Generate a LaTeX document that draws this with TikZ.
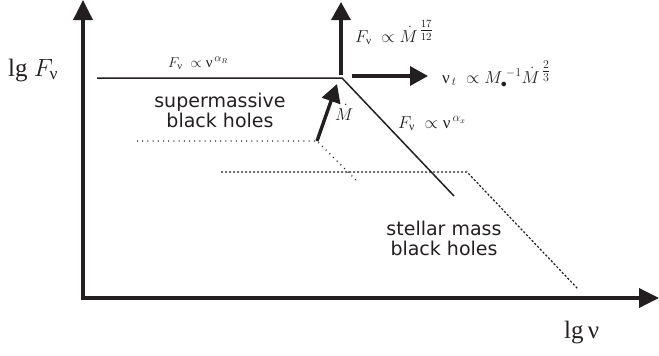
\documentclass[tikz,border=0pt]{standalone}
\usepackage{amsmath}
\usepackage{fontspec}
\setmainfont{Liberation Serif}
\newfontfamily\labelfont{DejaVu Sans}
\usetikzlibrary{arrows.meta}
\definecolor{ink}{RGB}{35,31,32}
\newcommand{\gnu}{\text{ν}}
\newcommand{\bigexp}[2]{\genfrac{}{}{}{1}{#1}{#2}}
\tikzset{
  axis/.style={line width=3.6pt, draw=ink, {Triangle[length=20pt,width=19pt]}-{Triangle[length=20pt,width=19pt]}},
  bigarrow/.style={line width=3.4pt, draw=ink, -{Triangle[length=18pt,width=19pt]}},
  curve/.style={line width=1.5pt, draw=ink},
  dotline/.style={line width=1.2pt, draw=ink, dash pattern=on 1pt off 4.2pt},
  dashline/.style={line width=1.2pt, draw=ink, dash pattern=on 2.2pt off 1.8pt},
  lab/.style={inner sep=0pt, text=ink, font=\labelfont\fontsize{19}{23}\selectfont, align=center},
  formula/.style={inner sep=0pt, text=ink, anchor=base west}
}
\begin{document}
\begin{tikzpicture}[x=1pt,y=-1pt]
\useasboundingbox (0,0) rectangle (659,356);
% axes
\coordinate (ytip) at (83,0);
\coordinate (origin) at (83,298);
\coordinate (xtip) at (659,298);
\draw[axis] (ytip) -- (origin) -- (xtip);
% supermassive spectrum (solid)
\coordinate (s0) at (97,78);
\coordinate (sk) at (342,78);
\coordinate (s1) at (454,196);
\draw[curve] (s0) -- (sk) -- (s1);
% lower dotted spectrum
\coordinate (d0) at (137,141);
\coordinate (dk) at (317,141);
\coordinate (d1) at (356,180);
\draw[dotline] (d0) -- (dk) -- (d1);
% stellar mass spectrum (dashed)
\coordinate (e0) at (221,172);
\coordinate (ek) at (467,172);
\coordinate (e1) at (578,289);
\draw[dashline] (e0) -- (ek) -- (e1);
% arrows
\coordinate (va0) at (341,75);
\coordinate (va1) at (341,2);
\draw[bigarrow] (va0) -- (va1);
\coordinate (ha0) at (352,76);
\coordinate (ha1) at (428,76);
\draw[bigarrow] (ha0) -- (ha1);
\coordinate (mtip) at (337,84);
\draw[bigarrow] (dk) -- (mtip);
% labels
\node[formula, font=\fontsize{25}{29}\selectfont] (ylab) at (8,76) {lg $F_{\gnu}$};
\node[formula, font=\fontsize{25}{29}\selectfont] (xlab) at (564,338) {lg\,ν};
\node[formula, font=\fontsize{15}{17}\selectfont] (fr) at (168,67) {$F_{\gnu}\;\propto\gnu^{\,\alpha_R}$};
\node[formula, font=\fontsize{16}{18}\selectfont] (fm) at (355,42) {$F_{\gnu}\;\propto\dot M^{\,\bigexp{17}{12}}$};
\node[formula, font=\fontsize{17}{20}\selectfont] (nt) at (442,83) {$\gnu_{\,t}\;\propto M_{\bullet}^{\;-1}\dot M^{\,\bigexp{2}{3}}$};
\node[formula, font=\fontsize{17}{20}\selectfont] (fx) at (398,128) {$F_{\gnu}\;\propto\gnu^{\,\alpha_x}$};
\node[formula, font=\fontsize{16}{18}\selectfont] (md) at (335,120) {$\dot M$};
\node[lab] (smbh) at (220,110) {supermassive\\[-3pt]black holes};
\node[lab] (stbh) at (444,238) {stellar mass\\[-3pt]black holes};
\end{tikzpicture}
\end{document}
